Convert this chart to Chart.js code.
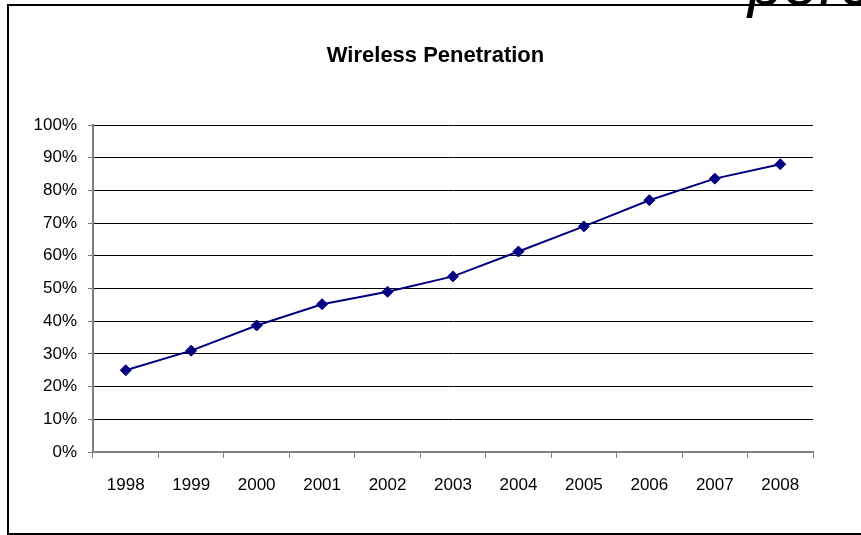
<!DOCTYPE html>
<html>
<head>
<meta charset="utf-8">
<script src="https://cdn.jsdelivr.net/npm/chart.js@4.4.0/dist/chart.umd.min.js"></script>
<style>
  html, body { margin: 0; padding: 0; background: #fff; }
  #wrap { position: relative; width: 861px; height: 535px; overflow: hidden; background: #fff; }
  #c { position: absolute; left: 0; top: 0; }
  #frame {
    position: absolute; left: 7px; top: 4px; width: 900px; height: 531px;
    box-sizing: border-box;
    border-left: 2px solid #000; border-top: 2px solid #000; border-bottom: 2px solid #000;
    pointer-events: none;
  }
  #heading {
    position: absolute; left: 748px; top: -49px;
    font: italic 64px "Liberation Sans", Arial, sans-serif; line-height: 64px;
    white-space: nowrap; color: #000;
  }
</style>
</head>
<body>
<div id="wrap">
  <canvas id="c" width="861" height="535"></canvas>
  <div id="frame"></div>
  <div id="heading">percentage</div>
</div>
<script>
// Wireless penetration by year (share of population, %)
const chartTitle = 'Wireless Penetration';
const years = ['1998', '1999', '2000', '2001', '2002', '2003', '2004', '2005', '2006', '2007', '2008'];
const penetration = [25, 31, 38.7, 45.2, 49, 53.7, 61.3, 69, 77, 83.6, 88];
const yMin = 0;
const yMax = 100;
const yStep = 10;

const labelFont = { family: '"Liberation Sans", Arial, sans-serif', size: 17 };

// Heading drawn above the plot, centred on the canvas
const headingPlugin = {
  id: 'chartHeading',
  afterDraw(chart) {
    const ctx = chart.ctx;
    ctx.save();
    ctx.font = 'bold 22px "Liberation Sans", Arial, sans-serif';
    ctx.fillStyle = '#000';
    ctx.textAlign = 'center';
    ctx.textBaseline = 'middle';
    ctx.fillText(chartTitle, chart.width / 2 + 5, 56);
    ctx.restore();
  }
};

new Chart(document.getElementById('c'), {
  type: 'line',
  data: {
    labels: years,
    datasets: [{
      data: penetration,
      borderColor: '#000080',
      borderWidth: 2,
      tension: 0,
      pointStyle: 'rectRot',
      pointRadius: 5.5,
      pointBorderWidth: 1,
      pointBackgroundColor: '#000080',
      pointBorderColor: '#000080'
    }]
  },
  options: {
    responsive: false,
    animation: false,
    layout: { padding: { top: 125, right: 48, bottom: 0, left: 0 } },
    plugins: {
      legend: { display: false },
      tooltip: { enabled: false },
      title: { display: false }
    },
    scales: {
      x: {
        type: 'category',
        offset: true,
        grid: { offset: true, drawOnChartArea: false, tickLength: 6, color: '#808080', lineWidth: 1 },
        border: { color: '#808080', width: 2 },
        ticks: { color: '#000', font: labelFont, padding: 17, maxRotation: 0, autoSkip: false },
        afterFit(scale) { scale.height = 83; }
      },
      y: {
        min: yMin,
        max: yMax,
        ticks: {
          stepSize: yStep,
          color: '#000',
          font: labelFont,
          padding: 11,
          callback: v => v + '%'
        },
        grid: {
          color: ctx => (ctx.tick && ctx.tick.value === 0) ? 'rgba(0,0,0,0)' : '#000',
          tickColor: '#808080',
          tickLength: 5,
          lineWidth: 1
        },
        border: { color: '#808080', width: 2 },
        afterFit(scale) { scale.width = 93; }
      }
    }
  },
  plugins: [headingPlugin]
});
</script>
</body>
</html>
